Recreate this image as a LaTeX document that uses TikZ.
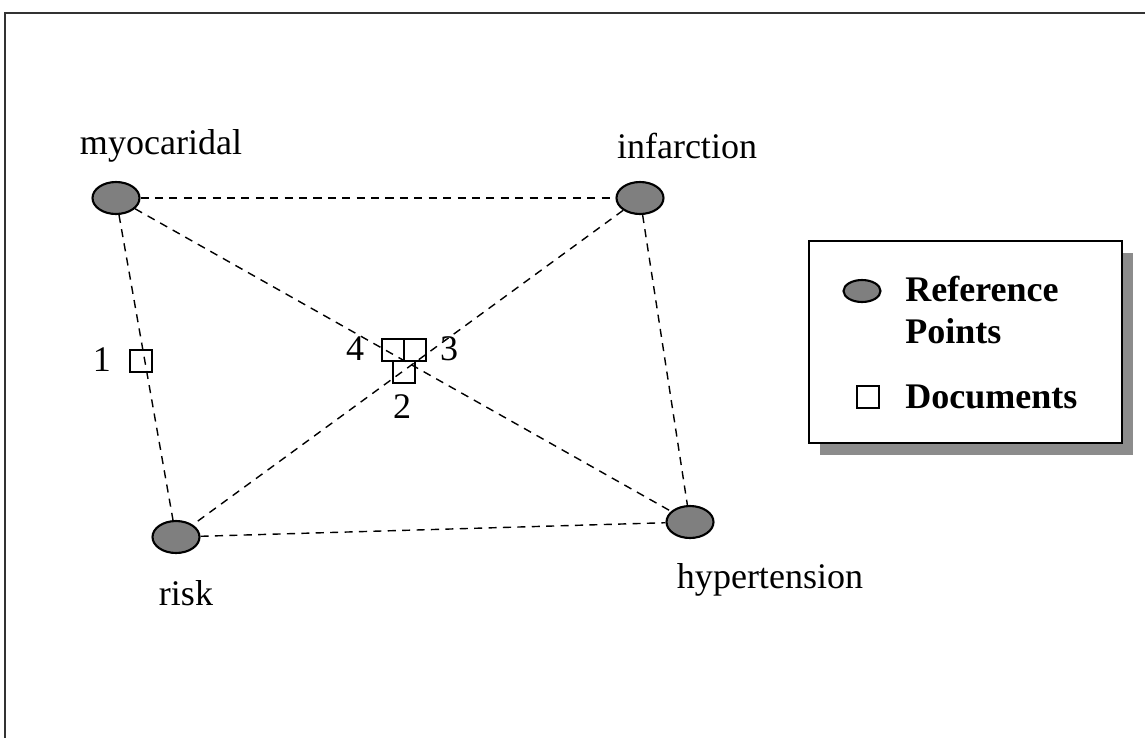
\documentclass[tikz,border=0pt]{standalone}
\usepackage{fontspec}
\setmainfont{Liberation Serif}
\usetikzlibrary{shapes.geometric,shadows}
\definecolor{refgray}{HTML}{7F7F7F}
\definecolor{shadowgray}{HTML}{8C8C8C}

\tikzset{
    refpoint/.style={ellipse, draw=black, line width=1.2pt, fill=refgray, minimum width=0.94cm, minimum height=0.64cm, inner sep=0pt},
    docbox/.style={rectangle, draw=black, line width=0.9pt, minimum size=0.43cm, inner sep=0pt},
    termlabel/.style={font=\fontsize{20.5pt}{22pt}\selectfont, inner sep=1pt},
    link/.style={dashed, dash pattern=on 4.6pt off 3.6pt, line width=0.8pt},
    legendtext/.style={font=\fontsize{20.5pt}{24pt}\selectfont\bfseries, align=left, inner sep=0pt, anchor=west}
}

\begin{document}
\begin{tikzpicture}[x=0.02cm, y=-0.02cm]
        \useasboundingbox (0,0) rectangle (1145,738);

        % Marco
        \coordinate (frameTL) at (5,13);
        \coordinate (frameTR) at (1145,13);
        \coordinate (frameBL) at (5,738);
        \draw[line width=1.4pt, black!80] (frameTR) -- (frameTL) -- (frameBL);

        % Puntos de referencia
        \node[refpoint] (myo) at (116,198) {};
        \node[refpoint] (inf) at (640,198) {};
        \node[refpoint] (risk) at (176,537) {};
        \node[refpoint] (hyp) at (690,522) {};

        \node[termlabel] (myoLabel) at (161,146) {myocaridal};
        \node[termlabel] (infLabel) at (687,146) {infarction};
        \node[termlabel] (riskLabel) at (186,593) {risk};
        \node[termlabel] (hypLabel) at (770,580) {hypertension};

        % Enlaces
        \draw[link] (myo) -- (inf);
        \draw[link] (myo) -- (risk);
        \draw[link] (inf) -- (hyp);
        \draw[link] (risk) -- (hyp);
        \draw[link] (myo) -- (hyp);
        \draw[link] (inf) -- (risk);

        % Documentos
        \node[docbox] (doc1) at (141,361) {};
        \node[docbox] (doc4) at (393,350) {};
        \node[docbox] (doc3) at (415,350) {};
        \node[docbox] (doc2) at (404,372) {};

        \node[termlabel] (doc1Label) at (102,360) {1};
        \node[termlabel] (doc4Label) at (355,349) {4};
        \node[termlabel] (doc3Label) at (449,349) {3};
        \node[termlabel] (doc2Label) at (402,407) {2};

        % Leyenda
        \node[rectangle, draw=black, line width=1pt, fill=white, minimum width=6.26cm, minimum height=4.04cm,
              drop shadow={shadow xshift=0.22cm, shadow yshift=-0.24cm, fill=shadowgray, opacity=1}] (legend) at (965.5,342) {};
        \node[refpoint, minimum width=0.74cm, minimum height=0.44cm] (legendRef) at (862,291) {};
        \node[docbox, minimum size=0.45cm] (legendDoc) at (868,397) {};
        \node[legendtext] (legendRefText) at (905,310) {Reference\\Points};
        \node[legendtext] (legendDocText) at (905,397) {Documents};
    \end{tikzpicture}
\end{document}
